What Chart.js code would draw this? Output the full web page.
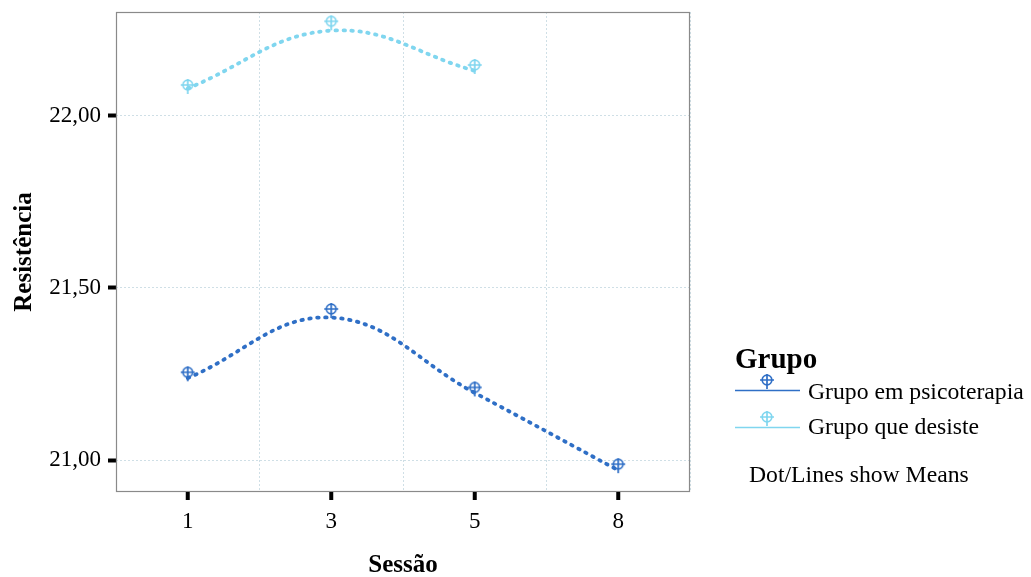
<!DOCTYPE html>
<html>
<head>
<meta charset="utf-8">
<script src="https://cdn.jsdelivr.net/npm/chart.js@4.4.1/dist/chart.umd.min.js"></script>
<style>
  html, body { margin: 0; padding: 0; background: #fff; }
  #wrap { position: relative; width: 1031px; height: 577px; }
  canvas#c { position: absolute; left: 0; top: 0; }
  .lg { position: absolute; font-family: "Liberation Serif", "Times New Roman", serif; color: #000; white-space: nowrap; line-height: 1; }
  .lg-title { left: 735px; top: 344px; font-size: 29px; font-weight: bold; }
  .lg-item { left: 808px; font-size: 23.7px; }
  .lg-note { left: 749px; top: 463px; font-size: 23.7px; }
  .lg-icon { position: absolute; left: 733px; }
</style>
</head>
<body>
<div id="wrap">
  <canvas id="c" width="1031" height="577"></canvas>
  <div class="lg lg-title">Grupo</div>
  <canvas class="lg-icon" id="ic0" width="70" height="30" style="top:370px"></canvas>
  <div class="lg lg-item" style="top:380px">Grupo em psicoterapia</div>
  <canvas class="lg-icon" id="ic1" width="70" height="30" style="top:407px"></canvas>
  <div class="lg lg-item" style="top:415px">Grupo que desiste</div>
  <div class="lg lg-note">Dot/Lines show Means</div>
</div>
<script>
// ---- data ----
const sessions = ['1', '3', '5', '8'];
const groupNames = ['Grupo em psicoterapia', 'Grupo que desiste'];
const psicoMeans = [21.255, 21.439, 21.211, 20.988];
const desisteMeans = [22.090, 22.275, 22.148, null];
const psicoFit = [21.238, 21.414, 21.195, 20.970];
const desisteFit = [22.080, 22.248, 22.131, null];
const yTicks = [21.0, 21.5, 22.0];
const yMin = 20.907, yMax = 22.302;

const colors = ['#2f6fc6', '#80d6ef'];

function makeMarker(color) {
  const c = document.createElement('canvas');
  c.width = 20; c.height = 30;
  const g = c.getContext('2d');
  g.strokeStyle = color; g.lineWidth = 1.7;
  g.beginPath(); g.arc(10, 15, 4.8, 0, Math.PI * 2); g.stroke();
  g.beginPath();
  g.moveTo(3, 15); g.lineTo(17, 15);
  g.moveTo(10, 9); g.lineTo(10, 24);
  g.stroke();
  return c;
}
const markers = colors.map(makeMarker);

// legend icons
colors.forEach((col, i) => {
  const cv = document.getElementById('ic' + i);
  const g = cv.getContext('2d');
  g.strokeStyle = col; g.lineWidth = 1.3;
  g.beginPath(); g.moveTo(2, 20.5); g.lineTo(67, 20.5); g.stroke();
  g.drawImage(markers[i], 34 - 10, 10 - 15);
});

const serif = '"Liberation Serif", "Times New Roman", serif';

const boxPlugin = {
  id: 'box',
  afterDraw(chart) {
    const { ctx, chartArea: a, scales: { x } } = chart;
    ctx.save();
    ctx.strokeStyle = '#8a8a8a';
    ctx.lineWidth = 1.2;
    ctx.strokeRect(a.left + 0.5, a.top + 0.5, a.right - a.left - 1, a.bottom - a.top - 1);
    ctx.strokeStyle = '#000';
    ctx.lineWidth = 4;
    for (let i = 0; i < sessions.length; i++) {
      const px = x.getPixelForValue(i);
      ctx.beginPath(); ctx.moveTo(px, a.bottom); ctx.lineTo(px, a.bottom + 8); ctx.stroke();
    }
    ctx.restore();
  }
};

new Chart(document.getElementById('c'), {
  type: 'line',
  data: {
    labels: sessions,
    datasets: [
      { label: groupNames[0] + ' fit', data: psicoFit, borderColor: colors[0], borderWidth: 3.8, borderDash: [1.5, 6.5], borderCapStyle: 'round', pointRadius: 0, tension: 0.4, fill: false },
      { label: groupNames[1] + ' fit', data: desisteFit, borderColor: colors[1], borderWidth: 3.8, borderDash: [1.5, 6.5], borderCapStyle: 'round', pointRadius: 0, tension: 0.4, fill: false },
      { label: groupNames[0], data: psicoMeans, showLine: false, pointStyle: markers[0], pointRadius: 8, borderColor: colors[0] },
      { label: groupNames[1], data: desisteMeans, showLine: false, pointStyle: markers[1], pointRadius: 8, borderColor: colors[1] }
    ]
  },
  options: {
    responsive: false,
    animation: false,
    layout: { padding: { top: 12, right: 341, left: 0, bottom: 0 } },
    plugins: { legend: { display: false }, tooltip: { enabled: false } },
    scales: {
      x: {
        type: 'category',
        offset: true,
        afterFit(s) { s.height = 85; s.paddingLeft = 0; s.paddingRight = 0; },
        grid: { color: '#cfdfe6', lineWidth: 1, offset: true, drawTicks: false },
        border: { display: false, dash: [2, 2] },
        ticks: { color: '#000', padding: 16, font: { family: serif, size: 23 } },
        title: { display: true, text: 'Sessão', color: '#000', font: { family: serif, size: 25, weight: 'bold', lineHeight: 0.88 }, padding: { top: 0, bottom: 0 } }
      },
      y: {
        type: 'linear',
        min: yMin, max: yMax,
        afterFit(s) { s.width = 116; s.paddingTop = 0; s.paddingBottom = 0; },
        afterBuildTicks(s) { s.ticks = yTicks.map(v => ({ value: v })); },
        grid: { color: '#cfdfe6', lineWidth: 1, drawTicks: true, tickColor: '#000', tickWidth: 4, tickLength: 8, tickBorderDash: [] },
        border: { display: false, dash: [2, 2] },
        ticks: { color: '#000', padding: 7, font: { family: serif, size: 23 }, callback: v => Number(v).toFixed(2).replace('.', ',') },
        title: { display: true, text: 'Resistência', color: '#000', font: { family: serif, size: 25, weight: 'bold', lineHeight: 1 }, padding: { top: 12, bottom: 0 } }
      }
    }
  },
  plugins: [boxPlugin]
});
</script>
</body>
</html>
